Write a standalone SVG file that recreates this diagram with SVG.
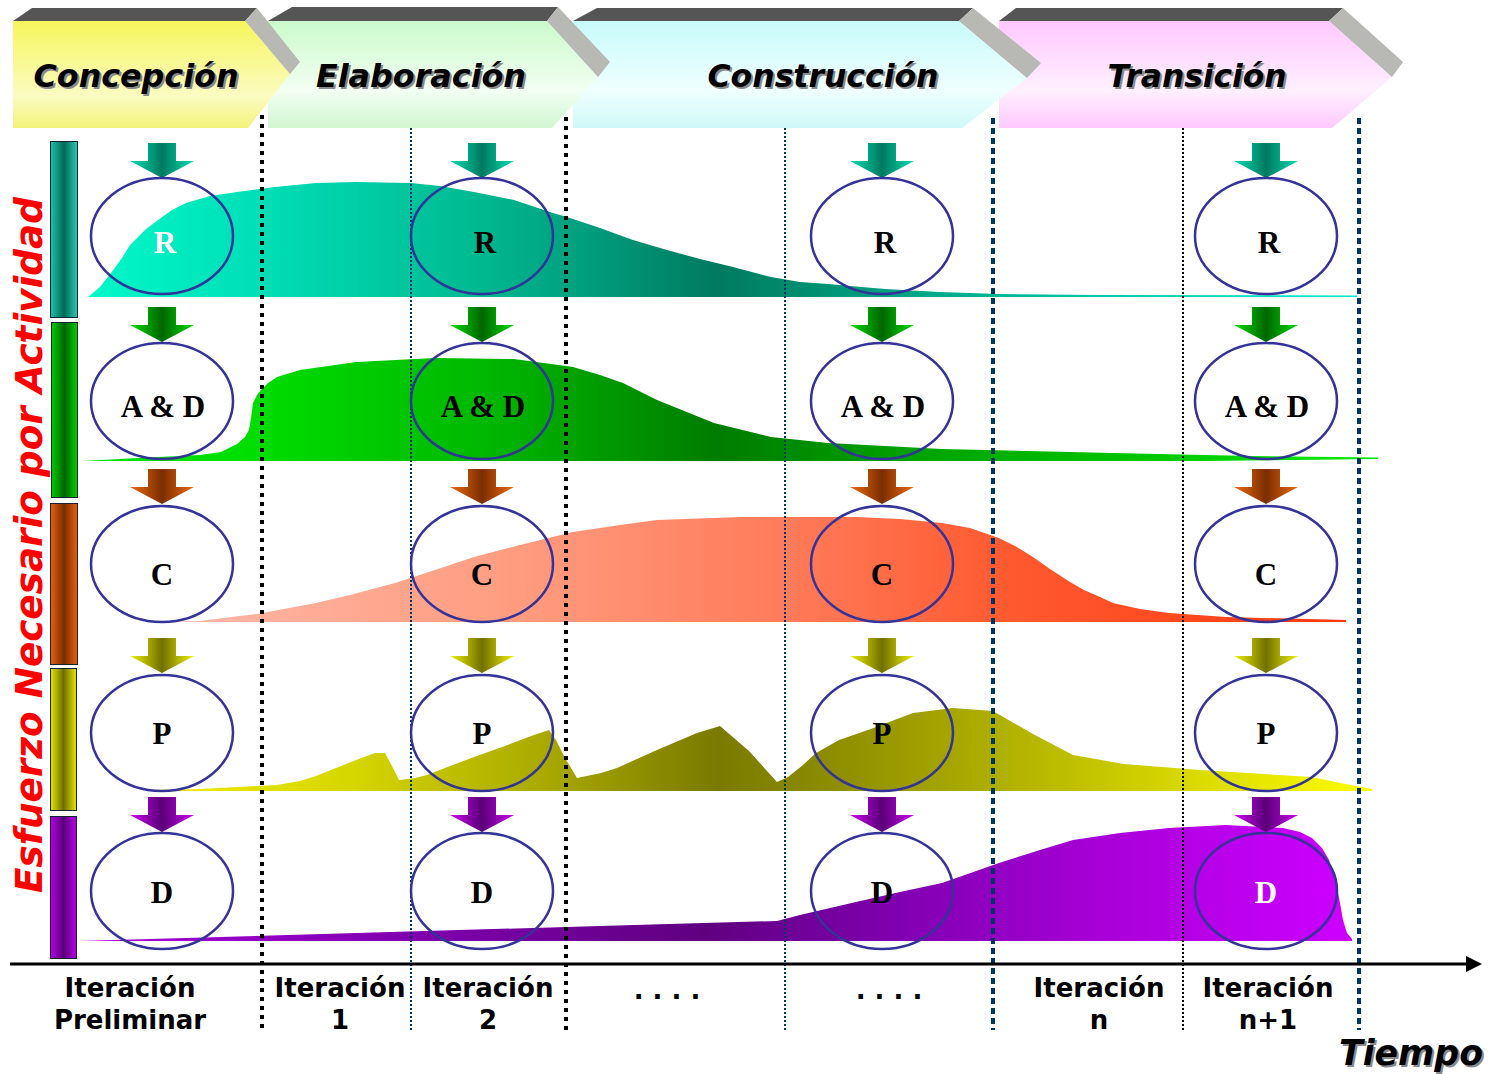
<svg xmlns="http://www.w3.org/2000/svg" width="1493" height="1074" viewBox="0 0 1493 1074">
<defs>
<style>
.hdr{font-family:"DejaVu Sans",Verdana,sans-serif;font-weight:bold;font-style:italic;font-size:32px;text-anchor:middle}
.sh{fill:#8a8a8a}
.bar{fill:#555555}
.side{fill:#b8b8b4}
.ell{fill:none;stroke:#333399;stroke-width:2.5}
.lbl{font-family:"Liberation Serif","Times New Roman",serif;font-weight:bold;font-size:31px;text-anchor:middle;fill:#000}
.wlbl{fill:#ffffff}
.bot{font-family:"DejaVu Sans",Verdana,sans-serif;font-weight:bold;font-size:26px;text-anchor:middle;fill:#000}
.dk{stroke:#000;stroke-width:4;stroke-dasharray:4 5;fill:none}
.nk{stroke:#003366;stroke-width:4;stroke-dasharray:6 4;fill:none}
.nt{stroke:#003366;stroke-width:2;stroke-dasharray:2 2;fill:none}
.bt{stroke:#000;stroke-width:2;stroke-dasharray:2 2;fill:none}
.vb{stroke:#123;stroke-width:1}
</style>
<linearGradient id="gCon" x1="0" y1="0" x2="0" y2="1"><stop offset="0" stop-color="#f6f65c"/><stop offset="0.7" stop-color="#fbfbc2"/><stop offset="1" stop-color="#f3f37a"/></linearGradient>
<linearGradient id="gEla" x1="0" y1="0" x2="0" y2="1"><stop offset="0" stop-color="#ccfacc"/><stop offset="0.65" stop-color="#f2fff2"/><stop offset="1" stop-color="#d2f6d2"/></linearGradient>
<linearGradient id="gCons" x1="0" y1="0" x2="0" y2="1"><stop offset="0" stop-color="#c8fafa"/><stop offset="0.65" stop-color="#f0ffff"/><stop offset="1" stop-color="#cff8f8"/></linearGradient>
<linearGradient id="gTra" x1="0" y1="0" x2="0" y2="1"><stop offset="0" stop-color="#ffc8ff"/><stop offset="0.65" stop-color="#fff0ff"/><stop offset="1" stop-color="#ffc8ff"/></linearGradient>

<linearGradient id="bTeal" x1="0" y1="0" x2="1" y2="0"><stop offset="0" stop-color="#20c0a8"/><stop offset="0.5" stop-color="#006a58"/><stop offset="1" stop-color="#30c8b0"/></linearGradient>
<linearGradient id="bGreen" x1="0" y1="0" x2="1" y2="0"><stop offset="0" stop-color="#00cc00"/><stop offset="0.5" stop-color="#006400"/><stop offset="1" stop-color="#00d000"/></linearGradient>
<linearGradient id="bBrown" x1="0" y1="0" x2="1" y2="0"><stop offset="0" stop-color="#e86010"/><stop offset="0.5" stop-color="#7a2e00"/><stop offset="1" stop-color="#e86010"/></linearGradient>
<linearGradient id="bOlive" x1="0" y1="0" x2="1" y2="0"><stop offset="0" stop-color="#e6e600"/><stop offset="0.5" stop-color="#6e6e00"/><stop offset="1" stop-color="#e6e600"/></linearGradient>
<linearGradient id="bPurple" x1="0" y1="0" x2="1" y2="0"><stop offset="0" stop-color="#b800e8"/><stop offset="0.5" stop-color="#580078"/><stop offset="1" stop-color="#b800e8"/></linearGradient>

<linearGradient id="aR" gradientUnits="userSpaceOnUse" x1="80" y1="0" x2="1380" y2="0"><stop offset="0.008" stop-color="#00f8c8"/><stop offset="0.13" stop-color="#00e0b8"/><stop offset="0.31" stop-color="#00b890"/><stop offset="0.4" stop-color="#009a7a"/><stop offset="0.49" stop-color="#007a60"/><stop offset="0.59" stop-color="#009878"/><stop offset="0.78" stop-color="#00c8a8"/><stop offset="1" stop-color="#00eccc"/></linearGradient>
<linearGradient id="aA" gradientUnits="userSpaceOnUse" x1="80" y1="0" x2="1380" y2="0"><stop offset="0.12" stop-color="#00e000"/><stop offset="0.31" stop-color="#00b800"/><stop offset="0.42" stop-color="#009400"/><stop offset="0.49" stop-color="#007c00"/><stop offset="0.63" stop-color="#00a000"/><stop offset="1" stop-color="#00ec00"/></linearGradient>
<linearGradient id="aC" gradientUnits="userSpaceOnUse" x1="80" y1="0" x2="1380" y2="0"><stop offset="0.06" stop-color="#ffb8a8"/><stop offset="0.32" stop-color="#ff9e82"/><stop offset="0.55" stop-color="#ff7a58"/><stop offset="0.71" stop-color="#ff5a30"/><stop offset="0.97" stop-color="#ff3a10"/></linearGradient>
<linearGradient id="aP" gradientUnits="userSpaceOnUse" x1="80" y1="0" x2="1380" y2="0"><stop offset="0.05" stop-color="#eeee00"/><stop offset="0.21" stop-color="#d6d600"/><stop offset="0.36" stop-color="#a8a800"/><stop offset="0.49" stop-color="#7a7a00"/><stop offset="0.59" stop-color="#909000"/><stop offset="0.71" stop-color="#b0b000"/><stop offset="0.82" stop-color="#d0d000"/><stop offset="1" stop-color="#ffff00"/></linearGradient>
<linearGradient id="aD" gradientUnits="userSpaceOnUse" x1="80" y1="0" x2="1380" y2="0"><stop offset="0" stop-color="#a800d8"/><stop offset="0.25" stop-color="#8000b0"/><stop offset="0.48" stop-color="#600080"/><stop offset="0.63" stop-color="#8000b0"/><stop offset="0.79" stop-color="#a800d8"/><stop offset="0.97" stop-color="#cc00ff"/></linearGradient>

<linearGradient id="wR" x1="0" y1="0" x2="1" y2="0"><stop offset="0" stop-color="#00e0b0"/><stop offset="0.5" stop-color="#007860"/><stop offset="1" stop-color="#00e0b0"/></linearGradient>
<linearGradient id="wA" x1="0" y1="0" x2="1" y2="0"><stop offset="0" stop-color="#00dd00"/><stop offset="0.5" stop-color="#006600"/><stop offset="1" stop-color="#00dd00"/></linearGradient>
<linearGradient id="wC" x1="0" y1="0" x2="1" y2="0"><stop offset="0" stop-color="#f06a10"/><stop offset="0.5" stop-color="#7a2e00"/><stop offset="1" stop-color="#f06a10"/></linearGradient>
<linearGradient id="wP" x1="0" y1="0" x2="1" y2="0"><stop offset="0" stop-color="#f0f000"/><stop offset="0.5" stop-color="#707000"/><stop offset="1" stop-color="#f0f000"/></linearGradient>
<linearGradient id="wD" x1="0" y1="0" x2="1" y2="0"><stop offset="0" stop-color="#cc00f0"/><stop offset="0.5" stop-color="#5a0078"/><stop offset="1" stop-color="#cc00f0"/></linearGradient>

<polygon id="arw" points="-14,0 14,0 14,18 32,18 0,35 -32,18 -14,18"/>
<marker id="axh" markerWidth="16" markerHeight="16" refX="2" refY="8" orient="auto" markerUnits="userSpaceOnUse"><path d="M0,0 L16,8 L0,16 Z" fill="#000"/></marker>
</defs>

<rect x="0" y="0" width="1493" height="1074" fill="#ffffff"/>

<!-- Phase headers (right to left so left ones overlap) -->
<g id="phase-transicion">
<polygon class="bar" points="999,21 1016,8 1343,8 1329,21"/>
<polygon fill="url(#gTra)" points="999,21 1329,21 1392,77 1332,128 999,128"/>
<polygon class="side" points="1329,21 1343,8 1403,62 1392,77"/>
<text class="hdr sh" x="1199" y="89" textLength="179" lengthAdjust="spacingAndGlyphs">Transición</text>
<text class="hdr" x="1197" y="87" textLength="179" lengthAdjust="spacingAndGlyphs">Transición</text>
</g>
<g id="phase-construccion">
<polygon class="bar" points="573,21 597,8 973,8 959,21"/>
<polygon fill="url(#gCons)" points="573,21 959,21 1027,78 962,128 573,128"/>
<polygon class="side" points="959,21 973,8 1041,63 1027,78"/>
<text class="hdr sh" x="825" y="89" textLength="231" lengthAdjust="spacingAndGlyphs">Construcción</text>
<text class="hdr" x="823" y="87" textLength="231" lengthAdjust="spacingAndGlyphs">Construcción</text>
</g>
<g id="phase-elaboracion">
<polygon class="bar" points="268,21 292,7 558,7 547,21"/>
<polygon fill="url(#gEla)" points="268,21 547,21 598,77 552,128 268,128"/>
<polygon class="side" points="547,21 558,7 610,62 598,77"/>
<text class="hdr sh" x="423" y="89" textLength="210" lengthAdjust="spacingAndGlyphs">Elaboración</text>
<text class="hdr" x="421" y="87" textLength="210" lengthAdjust="spacingAndGlyphs">Elaboración</text>
</g>
<g id="phase-concepcion">
<polygon class="bar" points="13,21 32,8 257,8 245,21"/>
<polygon fill="url(#gCon)" points="13,21 245,21 290,74 248,128 13,128"/>
<polygon class="side" points="245,21 257,8 300,62 290,74"/>
<text class="hdr sh" x="138" y="89" textLength="205" lengthAdjust="spacingAndGlyphs">Concepción</text>
<text class="hdr" x="136" y="87" textLength="205" lengthAdjust="spacingAndGlyphs">Concepción</text>
</g>

<!-- Vertical axis label -->
<g id="axis-y-label">
<text transform="translate(42,545) rotate(-90)" x="0" y="0" text-anchor="middle" font-family="'DejaVu Sans',Verdana,sans-serif" font-weight="bold" font-style="italic" font-size="37" fill="#ff0000" textLength="696" lengthAdjust="spacingAndGlyphs">Esfuerzo Necesario por Actividad</text>
</g>

<!-- Activity bars -->
<g id="activity-bars">
<rect class="vb" x="50.5" y="141.5" width="27" height="176" fill="url(#bTeal)"/>
<rect class="vb" x="51.5" y="322.5" width="26" height="175" fill="url(#bGreen)"/>
<rect class="vb" x="50.5" y="503.5" width="27" height="161" fill="url(#bBrown)"/>
<rect class="vb" x="50.5" y="668.5" width="26" height="142" fill="url(#bOlive)"/>
<rect class="vb" x="50.5" y="816.5" width="26" height="142" fill="url(#bPurple)"/>
</g>

<!-- Effort areas -->
<g id="effort-areas">
<path fill="url(#aR)" d="M88,297 L100,287 L111,273 L122,258 L130,245 L145,230 L158,220 L172,210 L186,203 L210,196 L237,192 L275,187 L316,183 L356,182 L411,183 L440,186 L474,192 L514,200 L553,213 L567,217 L600,228 L633,240 L667,250 L700,259 L733,267 L771,277 L800,282 L828,284 L850,286 L885,289 L940,292 L999,294 L1100,295 L1357,295.5 L1357,297 Z"/>
<path fill="url(#aA)" d="M82,461 L158,457 L200,455 L221,452 L237,444 L245,437 L249,430 L251,418 L253,403 L257,395 L261,390 L268,383 L277,377 L300,370 L356,362 L435,358 L514,359 L573,367 L600,375 L623,383 L657,400 L714,423 L771,437 L828,443 L942,449 L1113,453 L1250,456 L1378,457.5 L1378,459 L1200,461 Z"/>
<path fill="url(#aC)" d="M160,622 L200,621 L257,614 L316,603 L350,595 L395,583 L435,570 L474,557 L520,545 L573,532 L620,525 L657,520 L742,517 L856,517 L900,519 L942,523 L970,528 L999,538 L1015,546 L1033,557 L1050,569 L1070,582 L1084,590 L1100,597 L1113,603 L1140,609 L1169,613 L1226,617 L1346,620 L1346,622 Z"/>
<path fill="url(#aP)" d="M150,790 L200,789 L277,785 L300,781 L316,776 L336,768 L356,760 L375,753 L385,753 L392,766 L399,780 L415,778 L427,775 L450,766 L474,757 L505,746 L534,735 L549,730 L556,740 L565,758 L577,778 L601,773 L617,768 L657,750 L697,733 L720,726 L749,751 L777,782 L788,777 L803,765 L816,753 L839,740 L868,730 L913,713 L953,708 L993,711 L1033,734 L1073,755 L1124,764 L1200,770 L1312,777 L1340,783 L1372,789 L1372,791 L150,791 Z"/>
<path fill="url(#aD)" d="M79,941 L600,926 L777,921 L800,915 L856,902 L900,892 L942,883 L999,863 L1040,850 L1073,840 L1120,833 L1169,828 L1226,825 L1283,828 L1300,832 L1312,838 L1322,848 L1329,860 L1334,875 L1337,887 L1340,903 L1343,920 L1347,933 L1352,939 L1352,941 Z"/>
</g>

<!-- Iteration dividers -->
<g id="dividers">
<line class="dk" x1="262" y1="115" x2="262" y2="1030"/>
<line class="dk" x1="566" y1="117" x2="566" y2="1030"/>
<line class="nt" x1="411" y1="128" x2="411" y2="1030"/>
<line class="nt" x1="785" y1="128" x2="785" y2="1030"/>
<line class="nk" x1="993" y1="118" x2="993" y2="1030"/>
<line class="bt" x1="1183" y1="128" x2="1183" y2="1030"/>
<line class="nk" x1="1359" y1="118" x2="1359" y2="1030"/>
</g>

<!-- Connectors: activity arrows and time axis -->
<g id="connectors">
<use href="#arw" x="162" y="143" fill="url(#wR)"/><use href="#arw" x="482" y="143" fill="url(#wR)"/><use href="#arw" x="882" y="143" fill="url(#wR)"/><use href="#arw" x="1266" y="143" fill="url(#wR)"/>
<use href="#arw" x="162" y="307" fill="url(#wA)"/><use href="#arw" x="482" y="307" fill="url(#wA)"/><use href="#arw" x="882" y="307" fill="url(#wA)"/><use href="#arw" x="1266" y="307" fill="url(#wA)"/>
<use href="#arw" x="162" y="469" fill="url(#wC)"/><use href="#arw" x="482" y="469" fill="url(#wC)"/><use href="#arw" x="882" y="469" fill="url(#wC)"/><use href="#arw" x="1266" y="469" fill="url(#wC)"/>
<use href="#arw" x="162" y="638" fill="url(#wP)"/><use href="#arw" x="482" y="638" fill="url(#wP)"/><use href="#arw" x="882" y="638" fill="url(#wP)"/><use href="#arw" x="1266" y="638" fill="url(#wP)"/>
<use href="#arw" x="162" y="797" fill="url(#wD)"/><use href="#arw" x="482" y="797" fill="url(#wD)"/><use href="#arw" x="882" y="797" fill="url(#wD)"/><use href="#arw" x="1266" y="797" fill="url(#wD)"/>
<line x1="10" y1="964" x2="1468" y2="964" stroke="#000" stroke-width="3" marker-end="url(#axh)"/>
</g>

<!-- Activity nodes -->
<g id="r-1"><ellipse class="ell" cx="162" cy="236" rx="71" ry="58"/><text class="lbl wlbl" x="165" y="253">R</text></g>
<g id="r-2"><ellipse class="ell" cx="482" cy="236" rx="71" ry="58"/><text class="lbl" x="485" y="253">R</text></g>
<g id="r-3"><ellipse class="ell" cx="882" cy="236" rx="71" ry="58"/><text class="lbl" x="885" y="253">R</text></g>
<g id="r-4"><ellipse class="ell" cx="1266" cy="236" rx="71" ry="58"/><text class="lbl" x="1269" y="253">R</text></g>

<g id="ad-1"><ellipse class="ell" cx="162" cy="401" rx="71" ry="58"/><text class="lbl" x="163" y="417">A &amp; D</text></g>
<g id="ad-2"><ellipse class="ell" cx="482" cy="401" rx="71" ry="58"/><text class="lbl" x="483" y="417">A &amp; D</text></g>
<g id="ad-3"><ellipse class="ell" cx="882" cy="401" rx="71" ry="58"/><text class="lbl" x="883" y="417">A &amp; D</text></g>
<g id="ad-4"><ellipse class="ell" cx="1266" cy="401" rx="71" ry="58"/><text class="lbl" x="1267" y="417">A &amp; D</text></g>

<g id="c-1"><ellipse class="ell" cx="162" cy="564" rx="71" ry="58"/><text class="lbl" x="162" y="585">C</text></g>
<g id="c-2"><ellipse class="ell" cx="482" cy="564" rx="71" ry="58"/><text class="lbl" x="482" y="585">C</text></g>
<g id="c-3"><ellipse class="ell" cx="882" cy="564" rx="71" ry="58"/><text class="lbl" x="882" y="585">C</text></g>
<g id="c-4"><ellipse class="ell" cx="1266" cy="564" rx="71" ry="58"/><text class="lbl" x="1266" y="585">C</text></g>

<g id="p-1"><ellipse class="ell" cx="162" cy="733" rx="71" ry="58"/><text class="lbl" x="162" y="744">P</text></g>
<g id="p-2"><ellipse class="ell" cx="482" cy="733" rx="71" ry="58"/><text class="lbl" x="482" y="744">P</text></g>
<g id="p-3"><ellipse class="ell" cx="882" cy="733" rx="71" ry="58"/><text class="lbl" x="882" y="744">P</text></g>
<g id="p-4"><ellipse class="ell" cx="1266" cy="733" rx="71" ry="58"/><text class="lbl" x="1266" y="744">P</text></g>

<g id="d-1"><ellipse class="ell" cx="162" cy="891" rx="71" ry="58"/><text class="lbl" x="162" y="903">D</text></g>
<g id="d-2"><ellipse class="ell" cx="482" cy="891" rx="71" ry="58"/><text class="lbl" x="482" y="903">D</text></g>
<g id="d-3"><ellipse class="ell" cx="882" cy="891" rx="71" ry="58"/><text class="lbl" x="882" y="903">D</text></g>
<g id="d-4"><ellipse class="ell" cx="1266" cy="891" rx="71" ry="58"/><text class="lbl wlbl" x="1266" y="903">D</text></g>

<!-- Iteration labels -->
<g id="iteration-labels">
<text class="bot" x="130" y="997">Iteración</text><text class="bot" x="130" y="1029">Preliminar</text>
<text class="bot" x="340" y="997">Iteración</text><text class="bot" x="340" y="1029">1</text>
<text class="bot" x="488" y="997">Iteración</text><text class="bot" x="488" y="1029">2</text>
<text class="bot" x="667" y="999">. . . .</text>
<text class="bot" x="889" y="999">. . . .</text>
<text class="bot" x="1099" y="997">Iteración</text><text class="bot" x="1099" y="1029">n</text>
<text class="bot" x="1268" y="997">Iteración</text><text class="bot" x="1268" y="1029">n+1</text>
</g>

<g id="axis-x-label">
<text x="1485" y="1067" text-anchor="end" font-family="'DejaVu Sans',Verdana,sans-serif" font-weight="bold" font-style="italic" font-size="36" fill="#8a8a8a" textLength="144" lengthAdjust="spacingAndGlyphs">Tiempo</text>
<text x="1483" y="1065" text-anchor="end" font-family="'DejaVu Sans',Verdana,sans-serif" font-weight="bold" font-style="italic" font-size="36" fill="#000" textLength="144" lengthAdjust="spacingAndGlyphs">Tiempo</text>
</g>
</svg>
